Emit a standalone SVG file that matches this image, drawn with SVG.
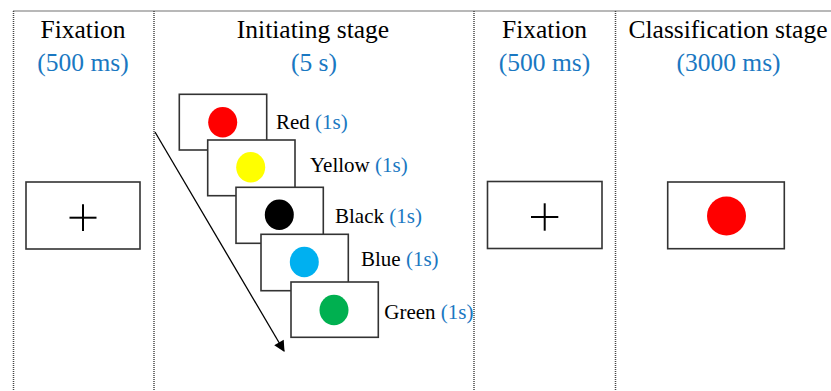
<svg xmlns="http://www.w3.org/2000/svg" width="831" height="391" viewBox="0 0 831 391">
<style>
.grid{stroke:#444;stroke-width:1.5;stroke-dasharray:1 1;fill:none}
.t{font-family:"Liberation Serif","Times New Roman",serif;font-size:25.5px;fill:#000;text-anchor:middle}
.b{fill:#1a78c2}
.l{font-family:"Liberation Serif","Times New Roman",serif;font-size:21px;fill:#000}
.card{fill:#fff;stroke:#333;stroke-width:1.6}
.cross{stroke:#000;stroke-width:2}
</style>
<defs>
<marker id="ah" viewBox="0 0 10 10" refX="9" refY="5" markerWidth="13" markerHeight="11" markerUnits="userSpaceOnUse" orient="auto"><path d="M0,0 L10,5 L0,10 z" fill="#000"/></marker>
</defs>
<g id="grid">
<line class="grid" x1="13.5" y1="11" x2="831" y2="11"/>
<line class="grid" x1="13.5" y1="11" x2="13.5" y2="391"/>
<line class="grid" x1="154" y1="11" x2="154" y2="391"/>
<line class="grid" x1="474" y1="11" x2="474" y2="391"/>
<line class="grid" x1="615.5" y1="11" x2="615.5" y2="391"/>
</g>
<g id="headers">
<text class="t" x="83" y="38">Fixation</text>
<text class="t b" x="83" y="71">(500 ms)</text>
<text class="t" x="313" y="38">Initiating stage</text>
<text class="t b" x="314" y="71">(5 s)</text>
<text class="t" x="544.5" y="38">Fixation</text>
<text class="t b" x="544.5" y="71">(500 ms)</text>
<text class="t" x="728" y="38">Classification stage</text>
<text class="t b" x="728.5" y="71">(3000 ms)</text>
</g>
<g id="fixation1">
<rect class="card" x="26" y="182" width="114" height="67"/>
<line class="cross" x1="69.5" y1="217.7" x2="96.5" y2="217.7"/>
<line class="cross" x1="83" y1="204.3" x2="83" y2="231"/>
</g>
<g id="connectors">
<line x1="155" y1="132" x2="284" y2="351" stroke="#000" stroke-width="1.3" marker-end="url(#ah)"/>
</g>
<g id="red">
<rect class="card" x="179.3" y="94.3" width="87.4" height="55.7"/>
<ellipse cx="222.7" cy="122.3" rx="14.5" ry="15.3" fill="#ff0000"/>
<text class="l" x="276" y="128.5">Red <tspan class="b">(1s)</tspan></text>
</g>
<g id="yellow">
<rect class="card" x="207.7" y="140" width="87.3" height="55.7"/>
<ellipse cx="250.7" cy="167.3" rx="14.5" ry="15.3" fill="#ffff00"/>
<text class="l" x="310" y="171.7">Yellow <tspan class="b">(1s)</tspan></text>
</g>
<g id="black">
<rect class="card" x="236" y="187.3" width="87.3" height="56"/>
<ellipse cx="279.3" cy="214.7" rx="14.5" ry="15.3" fill="#000"/>
<text class="l" x="335" y="223.3">Black <tspan class="b">(1s)</tspan></text>
</g>
<g id="blue">
<rect class="card" x="261" y="234.3" width="87.3" height="56.4"/>
<ellipse cx="304.3" cy="262" rx="14.5" ry="15.3" fill="#00b0f0"/>
<text class="l" x="361" y="266">Blue <tspan class="b">(1s)</tspan></text>
</g>
<g id="green">
<rect class="card" x="291" y="282" width="87.3" height="55.3"/>
<ellipse cx="334" cy="310" rx="14.5" ry="15.3" fill="#00b050"/>
<text class="l" x="384.3" y="319.3">Green <tspan class="b">(1s)</tspan></text>
</g>
<g id="fixation2">
<rect class="card" x="487.5" y="181.5" width="114.5" height="67"/>
<line class="cross" x1="531" y1="217" x2="558.3" y2="217"/>
<line class="cross" x1="544.7" y1="203.3" x2="544.7" y2="230.7"/>
</g>
<g id="classification">
<rect class="card" x="667.7" y="182" width="116.6" height="66.7"/>
<circle cx="726.5" cy="216" r="19.5" fill="#ff0000"/>
</g>
</svg>
